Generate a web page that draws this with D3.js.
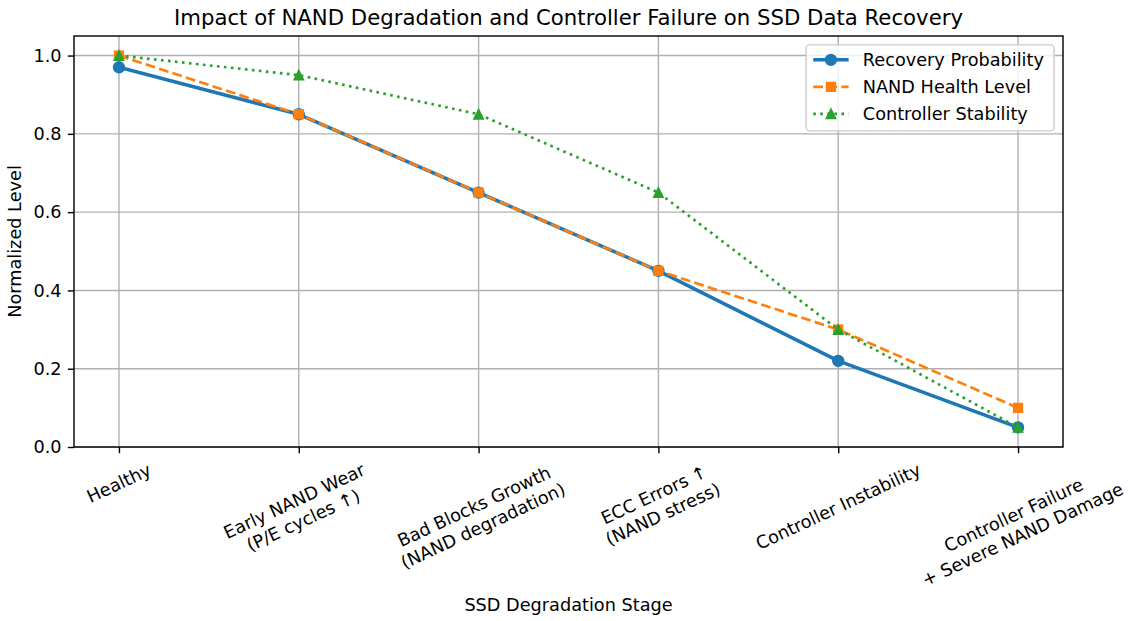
<!DOCTYPE html>
<html><head><meta charset="utf-8">
<script src="https://cdn.jsdelivr.net/npm/d3@7/dist/d3.min.js"></script>
<style>body{margin:0;background:#fff}svg{display:block}text{font-family:"DejaVu Sans",sans-serif;fill:#000}</style>
</head><body>
<svg id="c" width="1130" height="621"></svg>
<script>
const categories = ["Healthy", "Early NAND Wear\n(P/E cycles ↑)", "Bad Blocks Growth\n(NAND degradation)", "ECC Errors ↑\n(NAND stress)", "Controller Instability", "Controller Failure\n+ Severe NAND Damage"];
const recovery = [0.97, 0.85, 0.65, 0.45, 0.22, 0.05];
const nandHealth = [1.0, 0.85, 0.65, 0.45, 0.30, 0.10];
const controller = [1.0, 0.95, 0.85, 0.65, 0.30, 0.05];
const yTicks = [0.0, 0.2, 0.4, 0.6, 0.8, 1.0];
const seriesNames = ["Recovery Probability", "NAND Health Level", "Controller Stability"];

const S = 1.77; // px per pt
const FS = 10 * S;
const svg = d3.select("#c");
const L = 74, R = 1063, T = 36, B = 447;
const x = d3.scaleLinear().domain([-0.25, categories.length - 1 + 0.25]).range([L, R]);
const y = d3.scaleLinear().domain([0, 1.05]).range([B, T]);

const series = [
  {name: seriesNames[0], vals: recovery, color: "#1f77b4", lw: 2 * S, dash: null, marker: "o"},
  {name: seriesNames[1], vals: nandHealth, color: "#ff7f0e", lw: 1.5 * S, dash: [3.7 * 1.5 * S, 1.6 * 1.5 * S], marker: "s"},
  {name: seriesNames[2], vals: controller, color: "#2ca02c", lw: 1.5 * S, dash: [1 * 1.5 * S, 1.65 * 1.5 * S], marker: "^"}
];

// grid
const g = svg.append("g");
g.selectAll(".vg").data(categories).enter().append("line")
  .attr("x1", (d, i) => x(i)).attr("x2", (d, i) => x(i)).attr("y1", T).attr("y2", B)
  .attr("stroke", "#b0b0b0").attr("stroke-width", 0.8 * S);
g.selectAll(".hg").data(yTicks).enter().append("line")
  .attr("x1", L).attr("x2", R).attr("y1", d => y(d)).attr("y2", d => y(d))
  .attr("stroke", "#b0b0b0").attr("stroke-width", 0.8 * S);

// lines
const line = d3.line().x((d, i) => x(i)).y(d => y(d));
const ms = 6 * S;
function drawMarker(sel, m, color, size) {
  let el;
  if (m === "o") el = sel.append("circle").attr("r", size / 2);
  else if (m === "s") el = sel.append("rect").attr("x", -size / 2).attr("y", -size / 2).attr("width", size).attr("height", size);
  else el = sel.append("path").attr("d", `M0,${-size / 2}L${-size / 2},${size / 2}L${size / 2},${size / 2}Z`);
  el.attr("fill", color).attr("stroke", color).attr("stroke-width", 1 * S).attr("stroke-linejoin", "miter");
}
series.forEach(s => {
  const p = svg.append("path").datum(s.vals).attr("d", line).attr("fill", "none")
    .attr("stroke", s.color).attr("stroke-width", s.lw).attr("stroke-linejoin", "round");
  if (s.dash) p.attr("stroke-dasharray", s.dash.join(",")).attr("stroke-linecap", "butt");
  else p.attr("stroke-linecap", "square");
  s.vals.forEach((v, i) => {
    const mg = svg.append("g").attr("transform", `translate(${x(i)},${y(v)})`);
    drawMarker(mg, s.marker, s.color, s.marker === "s" ? ms * 0.8 : (s.marker === "^" ? ms * 0.85 : ms));
  });
});

// spines
svg.append("rect").attr("x", L).attr("y", T).attr("width", R - L).attr("height", B - T)
  .attr("fill", "none").attr("stroke", "#000").attr("stroke-width", 0.8 * S);

// y axis
const yAxis = d3.axisLeft(y).tickValues(yTicks).tickFormat(d3.format(".1f")).tickSize(3.5 * S).tickPadding(3.5 * S);
const ya = svg.append("g").attr("transform", `translate(${L},0)`).call(yAxis);
ya.select(".domain").remove();
ya.selectAll(".tick line").attr("stroke", "#000").attr("stroke-width", 0.8 * S);
ya.selectAll(".tick text").attr("font-size", FS).attr("font-family", "DejaVu Sans").attr("fill", "#000");

// x axis ticks
const xAxis = d3.axisBottom(x).tickValues(d3.range(categories.length)).tickFormat("").tickSize(3.5 * S);
const xa = svg.append("g").attr("transform", `translate(0,${B})`).call(xAxis);
xa.select(".domain").remove();
xa.selectAll(".tick line").attr("stroke", "#000").attr("stroke-width", 0.8 * S);

// rotated x tick labels
const theta = 25 * Math.PI / 180;
const topY = B + 3.5 * S + 3.5 * S;
categories.forEach((c, i) => {
  const lines = c.split("\n");
  const lh = 1.2 * FS;
  const gg = svg.append("g");
  const t = gg.append("text").attr("font-size", FS).attr("text-anchor", "middle");
  const h = (lines.length - 1) * lh + FS * 1.164;
  lines.forEach((ln, j) => t.append("tspan").attr("x", 0).attr("y", -h / 2 + FS * 0.928 + j * lh).text(ln));
  let w = 0;
  t.selectAll("tspan").each(function () { w = Math.max(w, this.getComputedTextLength()); });
  const H = w * Math.sin(theta) + h * Math.cos(theta);
  gg.attr("transform", `translate(${x(i)},${topY + H / 2}) rotate(-25)`);
});

// axis labels
svg.append("text").attr("x", (L + R) / 2).attr("y", 611).attr("text-anchor", "middle").attr("font-size", FS).text("SSD Degradation Stage");
svg.append("text").attr("transform", `translate(21,${(T + B) / 2}) rotate(-90)`).attr("text-anchor", "middle").attr("font-size", FS).text("Normalized Level");

// title
svg.append("text").attr("x", (L + R) / 2).attr("y", T - 6 * S).attr("text-anchor", "middle").attr("font-size", 12 * S).text("Impact of NAND Degradation and Controller Failure on SSD Data Recovery");

// legend
const lgW = 248, lgX = R - 0.5 * FS - lgW, lgY = T + 0.5 * FS;
const rowH = 27;
const lg = svg.append("g");
lg.append("rect").attr("x", lgX).attr("y", lgY).attr("width", lgW).attr("height", 86)
  .attr("rx", 0.2 * FS).attr("fill", "#fff").attr("fill-opacity", 0.8).attr("stroke", "#cccccc").attr("stroke-width", 0.8 * S);
series.forEach((s, i) => {
  const cy = lgY + 15 + i * rowH;
  const x0 = lgX + 0.4 * FS, x1 = x0 + 2 * FS;
  const l = lg.append("line").attr("x1", x0).attr("x2", x1).attr("y1", cy).attr("y2", cy)
    .attr("stroke", s.color).attr("stroke-width", s.lw);
  if (s.dash) l.attr("stroke-dasharray", s.dash.join(","));
  const mg = lg.append("g").attr("transform", `translate(${(x0 + x1) / 2},${cy})`);
  drawMarker(mg, s.marker, s.color, s.marker === "s" ? ms * 0.8 : (s.marker === "^" ? ms * 0.85 : ms));
  lg.append("text").attr("x", x1 + 0.8 * FS).attr("y", cy).attr("dominant-baseline", "central").attr("font-size", FS).text(s.name);
});
</script>
</body></html>
